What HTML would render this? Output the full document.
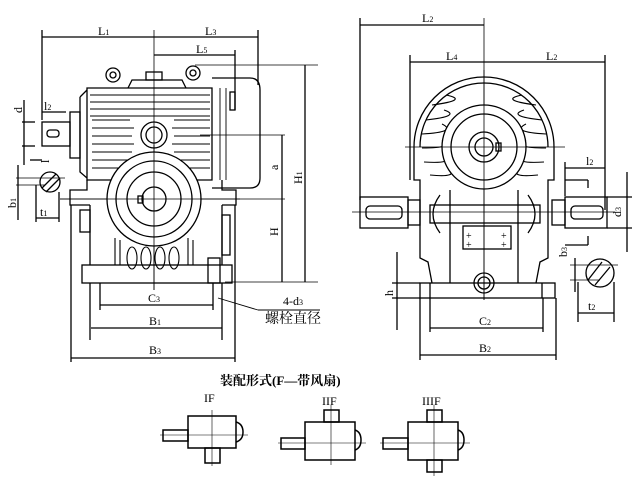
<!DOCTYPE html>
<html><head><meta charset="utf-8"><style>
html,body{margin:0;padding:0;background:#fff;}
svg{display:block;}
text{font-family:"Liberation Serif","Noto Serif CJK SC",serif;fill:#000;}
</style></head><body>
<svg width="640" height="480" viewBox="0 0 640 480" xmlns="http://www.w3.org/2000/svg">
<g fill="none" stroke="#000" stroke-width="1.3">
<!-- ===== LEFT VIEW ===== -->
<line x1="42" y1="37" x2="258" y2="37"/>
<line x1="154" y1="55" x2="235" y2="55"/>
<line x1="42" y1="30" x2="42" y2="120"/>
<line x1="258" y1="30" x2="258" y2="85"/>
<line x1="235" y1="50" x2="235" y2="110"/>
<line x1="154" y1="30" x2="154" y2="290" stroke-width="0.8"/>
<line x1="305" y1="65" x2="305" y2="282"/>
<line x1="282" y1="135" x2="282" y2="282"/>
<line x1="195" y1="65" x2="318" y2="65" stroke-width="0.8"/>
<line x1="200" y1="135" x2="285" y2="135" stroke-width="0.8"/>
<line x1="60" y1="199" x2="285" y2="199" stroke-width="0.8"/>
<line x1="225" y1="282" x2="318" y2="282" stroke-width="0.8"/>
<circle cx="113" cy="75" r="7"/><circle cx="113" cy="75" r="3"/>
<circle cx="193" cy="73" r="7"/><circle cx="193" cy="73" r="3"/>
<path d="M128 88 L132 80 L182 80 L186 88"/>
<rect x="146" y="72" width="16" height="8"/>
<path d="M87 88 L212 88 L212 180 L87 180 Z"/>
<path d="M80 97 L87 90 M80 97 L80 172 L87 178"/>
<rect x="70" y="112" width="10" height="46"/>
<rect x="42" y="122" width="28" height="24"/>
<rect x="47" y="130" width="12" height="7" rx="3"/>
<g stroke-width="1.1">
<line x1="90" y1="95" x2="210" y2="95"/><line x1="90" y1="102" x2="210" y2="102"/>
<line x1="90" y1="109" x2="210" y2="109"/><line x1="90" y1="116" x2="210" y2="116"/>
<path d="M92 120 L130 120 M92 128 L134 128 M92 136 L132 136 M92 144 L134 144 M92 152 L132 152 M92 160 L134 160 M92 168 L130 168"/>
<path d="M174 120 L210 120 M172 128 L210 128 M174 136 L210 136 M172 144 L210 144 M174 152 L210 152 M172 160 L210 160 M176 168 L210 168"/>
</g>
<circle cx="154" cy="135" r="13"/><circle cx="154" cy="135" r="8"/>
<path d="M212 78 L250 78 Q260 78 260 90 L260 178 Q260 188 250 188 L212 188"/>
<line x1="220" y1="88" x2="220" y2="180" stroke-width="0.9"/>
<line x1="226" y1="88" x2="226" y2="180" stroke-width="0.9"/>
<rect x="230" y="92" width="5" height="18"/>
<circle cx="154" cy="199" r="47" fill="#fff"/><circle cx="154" cy="199" r="38"/>
<circle cx="154" cy="199" r="27"/><circle cx="154" cy="199" r="12"/>
<rect x="138" y="196" width="5" height="7"/>
<line x1="60" y1="199" x2="240" y2="199" stroke-width="0.8"/>
<line x1="154" y1="145" x2="154" y2="290" stroke-width="0.8"/>
<path d="M87 180 L87 190 L70 190 L70 205 L90 205"/>
<path d="M222 180 L222 190 L236 190 L236 205 L222 205"/>
<path d="M90 205 L90 265 M222 205 L222 265"/>
<rect x="80" y="210" width="10" height="22"/><rect x="222" y="215" width="8" height="40"/>
<g stroke-width="1.1">
<ellipse cx="132" cy="258" rx="5" ry="11"/><ellipse cx="146" cy="258" rx="5" ry="11"/>
<ellipse cx="160" cy="258" rx="5" ry="11"/><ellipse cx="174" cy="258" rx="5" ry="11"/>
<line x1="115" y1="238" x2="115" y2="265"/><line x1="120" y1="240" x2="120" y2="265"/>
<line x1="188" y1="238" x2="188" y2="265"/><line x1="193" y1="240" x2="193" y2="265"/>
</g>
<rect x="82" y="265" width="150" height="18"/>
<rect x="208" y="258" width="12" height="25"/>
<line x1="90" y1="283" x2="90" y2="340"/><line x1="222" y1="283" x2="222" y2="340"/>
<line x1="100" y1="283" x2="100" y2="310"/><line x1="213" y1="283" x2="213" y2="310"/>
<line x1="71" y1="205" x2="71" y2="362"/><line x1="235" y1="205" x2="235" y2="362"/>
<line x1="100" y1="305" x2="213" y2="305"/>
<line x1="91" y1="328" x2="222" y2="328"/>
<line x1="71" y1="358" x2="235" y2="358"/>
<line x1="218" y1="298" x2="258" y2="310" stroke-width="0.9"/>
<line x1="258" y1="310" x2="320" y2="310" stroke-width="0.9"/>
<line x1="22" y1="122" x2="35" y2="122"/><line x1="22" y1="146" x2="35" y2="146"/>
<line x1="24" y1="100" x2="24" y2="165"/>
<line x1="42" y1="112" x2="66" y2="112"/>
<line x1="30" y1="160" x2="42" y2="160"/>
<circle cx="50" cy="182" r="10"/>
<path d="M42 188 L56 174 M46 192 L60 178"/>
<line x1="16" y1="178" x2="65" y2="178" stroke-width="0.8"/>
<line x1="16" y1="185" x2="45" y2="185" stroke-width="0.8"/>
<line x1="18" y1="165" x2="18" y2="220"/>
<line x1="36" y1="185" x2="36" y2="222"/><line x1="59" y1="192" x2="59" y2="222"/>
<line x1="36" y1="218" x2="59" y2="218"/>

<!-- ===== RIGHT VIEW ===== -->
<line x1="360" y1="25" x2="484" y2="25"/>
<line x1="410" y1="62" x2="605" y2="62"/>
<line x1="360" y1="18" x2="360" y2="200"/>
<line x1="410" y1="55" x2="410" y2="180"/>
<line x1="605" y1="55" x2="605" y2="210"/>
<line x1="484" y1="18" x2="484" y2="300" stroke-width="0.8"/>
<path d="M414 147 A70 70 0 0 1 554 147"/>
<path d="M420 147 A64 64 0 0 1 548 147"/>
<g stroke-width="1.1">
<path d="M432 105 Q470 100 446 95 M426 120 Q462 116 444 110 M422 134 Q458 132 442 124 M422 148 Q456 148 442 140 M424 162 Q456 164 444 155 M430 175 Q460 178 448 168"/>
<path d="M536 105 Q498 100 522 95 M542 120 Q506 116 524 110 M546 134 Q510 132 526 124 M546 148 Q512 148 526 140 M544 162 Q512 164 524 155 M538 175 Q508 178 520 168"/>
</g>
<circle cx="484" cy="147" r="42" fill="#fff"/><circle cx="484" cy="147" r="33"/>
<circle cx="484" cy="147" r="15"/><circle cx="484" cy="147" r="9"/>
<rect x="496" y="143" width="5" height="8"/>
<line x1="405" y1="147" x2="565" y2="147" stroke-width="0.8"/>
<line x1="484" y1="70" x2="484" y2="300" stroke-width="0.8"/>
<path d="M414 147 L414 180 L420 180 L420 258 L428 262 L432 283"/>
<path d="M554 147 L554 180 L548 180 L548 258 L540 262 L536 283"/>
<line x1="450" y1="190" x2="450" y2="283"/><line x1="518" y1="190" x2="518" y2="283"/>
<rect x="430" y="205" width="110" height="18"/>
<path d="M440 195 Q426 214 440 233 M528 195 Q542 214 528 233"/>
<rect x="463" y="226" width="48" height="23"/>
<text x="466" y="239" font-size="10" stroke="none">+</text><text x="501" y="239" font-size="10" stroke="none">+</text>
<text x="466" y="248" font-size="10" stroke="none">+</text><text x="501" y="248" font-size="10" stroke="none">+</text>
<circle cx="484" cy="283" r="10"/><circle cx="484" cy="283" r="6"/>
<rect x="360" y="197" width="48" height="31"/>
<rect x="366" y="206" width="36" height="13" rx="4"/>
<rect x="408" y="200" width="12" height="25"/>
<rect x="565" y="197" width="42" height="31"/>
<rect x="571" y="206" width="32" height="13" rx="4"/>
<rect x="552" y="200" width="13" height="25"/>
<line x1="352" y1="212" x2="615" y2="212" stroke-width="0.8"/>
<rect x="420" y="283" width="135" height="15"/>
<line x1="430" y1="283" x2="430" y2="298"/><line x1="542" y1="283" x2="542" y2="298"/>
<line x1="420" y1="298" x2="420" y2="360"/><line x1="556" y1="298" x2="556" y2="360"/>
<line x1="430" y1="298" x2="430" y2="332"/><line x1="543" y1="298" x2="543" y2="332"/>
<line x1="430" y1="328" x2="543" y2="328"/>
<line x1="420" y1="355" x2="556" y2="355"/>
<line x1="397" y1="252" x2="397" y2="330"/>
<line x1="392" y1="283" x2="420" y2="283"/><line x1="392" y1="298" x2="420" y2="298"/>
<line x1="565" y1="168" x2="605" y2="168"/>
<line x1="565" y1="162" x2="565" y2="196"/>
<line x1="565" y1="180" x2="588" y2="180"/><line x1="588" y1="180" x2="588" y2="188"/>
<line x1="565" y1="245" x2="588" y2="245"/><line x1="588" y1="236" x2="588" y2="245"/>
<line x1="627" y1="172" x2="627" y2="252"/>
<line x1="607" y1="197" x2="632" y2="197"/><line x1="607" y1="228" x2="632" y2="228"/>
<circle cx="600" cy="273" r="14"/>
<path d="M588 280 L602 262 M595 285 L610 267"/>
<line x1="570" y1="265" x2="618" y2="265" stroke-width="0.8"/>
<line x1="570" y1="280" x2="600" y2="280" stroke-width="0.8"/>
<line x1="575" y1="258" x2="575" y2="292"/>
<line x1="578" y1="282" x2="578" y2="322"/><line x1="614" y1="282" x2="614" y2="322"/>
<line x1="578" y1="313" x2="614" y2="313"/>

<!-- ===== BOTTOM ===== -->
<rect x="188" y="416" width="48" height="32" stroke-width="1.5"/>
<rect x="163" y="430" width="25" height="11" stroke-width="1.5"/>
<rect x="205" y="448" width="15" height="15" stroke-width="1.5"/>
<path d="M236 422 Q243 424 243 432 Q243 440 236 442" stroke-width="1.5"/>
<line x1="160" y1="435" x2="248" y2="435" stroke-width="0.6"/><line x1="212" y1="410" x2="212" y2="466" stroke-width="0.6"/>
<rect x="305" y="422" width="50" height="38" stroke-width="1.5"/>
<rect x="281" y="438" width="24" height="11" stroke-width="1.5"/>
<rect x="324" y="410" width="15" height="12" stroke-width="1.5"/>
<path d="M355 430 Q361 432 361 440 Q361 448 355 450" stroke-width="1.5"/>
<line x1="278" y1="443" x2="366" y2="443" stroke-width="0.6"/><line x1="331" y1="405" x2="331" y2="465" stroke-width="0.6"/>
<rect x="408" y="422" width="50" height="38" stroke-width="1.5"/>
<rect x="383" y="438" width="25" height="11" stroke-width="1.5"/>
<rect x="427" y="410" width="15" height="12" stroke-width="1.5"/>
<rect x="427" y="460" width="15" height="12" stroke-width="1.5"/>
<path d="M458 430 Q464 432 464 440 Q464 448 458 450" stroke-width="1.5"/>
<line x1="380" y1="443" x2="470" y2="443" stroke-width="0.6"/><line x1="434" y1="405" x2="434" y2="476" stroke-width="0.6"/>
</g>
<g font-size="12">
<text x="98" y="35">L<tspan font-size="8">1</tspan></text>
<text x="205" y="35">L<tspan font-size="8">3</tspan></text>
<text x="196" y="53">L<tspan font-size="8">5</tspan></text>
<text x="44" y="110">l<tspan font-size="8">2</tspan></text>
<text x="13" y="112" transform="rotate(-90 18 108)">d</text>
<text x="40" y="162" transform="rotate(-90 45 158)">l</text>
<text x="8" y="208" transform="rotate(-90 12 204)">b<tspan font-size="8">1</tspan></text>
<text x="40" y="216">t<tspan font-size="8">1</tspan></text>
<text x="270" y="170" transform="rotate(-90 274 166)">a</text>
<text x="270" y="236" transform="rotate(-90 274 232)">H</text>
<text x="294" y="184" transform="rotate(-90 298 180)">H<tspan font-size="8">1</tspan></text>
<text x="148" y="302">C<tspan font-size="8">3</tspan></text>
<text x="149" y="325">B<tspan font-size="8">1</tspan></text>
<text x="149" y="354">B<tspan font-size="8">3</tspan></text>
<text x="283" y="305">4-d<tspan font-size="8">3</tspan></text>
<text x="265" y="323" font-size="14">螺栓直径</text>
<text x="422" y="22">L<tspan font-size="8">2</tspan></text>
<text x="446" y="60">L<tspan font-size="8">4</tspan></text>
<text x="546" y="60">L<tspan font-size="8">2</tspan></text>
<text x="586" y="165">l<tspan font-size="8">2</tspan></text>
<text x="612" y="216" transform="rotate(-90 617 212)">d<tspan font-size="8">3</tspan></text>
<text x="558" y="256" transform="rotate(-90 563 252)">b<tspan font-size="8">3</tspan></text>
<text x="588" y="310">t<tspan font-size="8">2</tspan></text>
<text x="384" y="295" transform="rotate(-90 389 291)">h</text>
<text x="479" y="325">C<tspan font-size="8">2</tspan></text>
<text x="479" y="352">B<tspan font-size="8">2</tspan></text>
<text x="220" y="385" font-size="13" font-weight="bold">装配形式(F—带风扇)</text>
<text x="204" y="402" font-size="12">IF</text>
<text x="322" y="405" font-size="12">IIF</text>
<text x="422" y="405" font-size="12">IIIF</text>
</g>
</svg>
</body></html>
